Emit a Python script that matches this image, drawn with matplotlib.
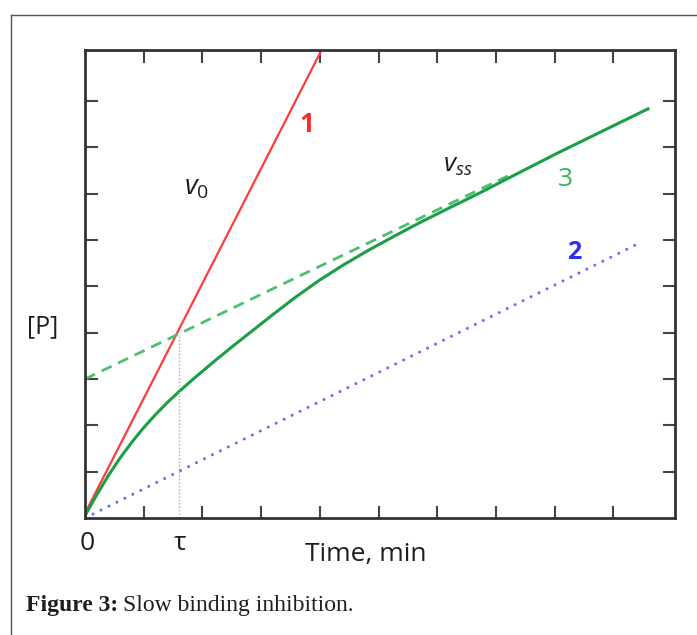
import matplotlib
matplotlib.use("Agg")
import matplotlib.pyplot as plt
from matplotlib.lines import Line2D

# values (arbitrary units)
tau = 1.6

red_t = [0.0, 4.05]
red_p = [0.1, 10.15]

blue_t = [0.0, 9.39]
blue_p = [0.0, 5.9]

asym_t = [0.0, 7.2]
asym_p = [3.0, 7.38]

green_t = [0.0, 0.2, 0.4, 0.6, 0.8, 1.0, 1.2, 1.4, 1.62, 1.9, 2.2, 2.5, 2.84,
           3.2, 3.58, 3.98, 4.4, 4.83, 5.25, 5.68, 6.25, 6.7, 7.16, 8.04, 9.59]
green_p = [0.05, 0.5, 0.92, 1.3, 1.64, 1.95, 2.23, 2.49, 2.75, 3.06, 3.38, 3.69, 4.03,
           4.39, 4.76, 5.12, 5.46, 5.78, 6.07, 6.36, 6.72, 7.0, 7.3, 7.87, 8.83]

plt.rcParams['font.family'] = ['Open Sans', 'DejaVu Sans']
plt.rcParams['mathtext.fontset'] = 'custom'
plt.rcParams['mathtext.rm'] = 'Open Sans'
plt.rcParams['mathtext.it'] = 'Open Sans:italic'

ink = '#1e1e1e'

fig = plt.figure(figsize=(6.97, 6.35), dpi=100)
ax = fig.add_axes([85 / 697, 117 / 635, 590 / 697, 468 / 635])

ax.plot(red_t, red_p, color='#ff3b3b', lw=1.6)
ax.plot(asym_t, asym_p, color='#4cbf72', lw=2.0, linestyle=(0, (4, 2.6)))
ax.plot(green_t, green_p, color='#1a9f46', lw=2.2, solid_joinstyle='round')
ax.plot(blue_t, blue_p, color='#6a6aff', lw=2.2, linestyle=(0, (0.01, 2.9)),
        dash_capstyle='round')
ax.plot([tau, tau], [0, 4.0], color='#aaaaaa', lw=1.0, linestyle=(0, (1, 1.5)))

ax.set_xlim(0, 10.05)
ax.set_ylim(0, 10.1)
ax.set_xticks(range(1, 10))
ax.set_yticks(range(1, 10))
ax.set_xticklabels([])
ax.set_yticklabels([])
ax.tick_params(direction='in', length=9, width=1.5, color='#444444',
               top=True, right=True)
for s in ax.spines.values():
    s.set_color('#333333')
    s.set_linewidth(2.0)

# curve labels
ax.text(3.78, 8.49, '1', color='#ff2a2a', fontsize=19, fontweight='bold',
        ha='center', va='center')
ax.text(8.33, 5.72, '2', color='#2f2fee', fontsize=18, fontweight='bold',
        ha='center', va='center')
ax.text(8.18, 7.3, '3', color='#3bb35a', fontsize=19, ha='center', va='center')
ax.text(1.9, 7.13, r'$v_{\mathit{0}}$', color=ink, fontsize=20, ha='center', va='center')
ax.text(6.35, 7.6, r'$v_{ss}$', color=ink, fontsize=19, ha='center', va='center')

# axis texts
fig.text(43 / 697, 1 - 327 / 635, '[P]', fontsize=18, color=ink,
         ha='center', va='center')
fig.text(87 / 697, 1 - 543 / 635, '0', fontsize=19, color=ink,
         ha='center', va='center')
fig.text(180 / 697, 1 - 543 / 635, '\u03c4', fontsize=19, color=ink,
         ha='center', va='center')
fig.text(366 / 697, 1 - 555 / 635, 'Time, min', fontsize=19, color=ink,
         ha='center', va='center')

# caption
cap1 = fig.text(26 / 697, 1 - 606 / 635, 'Figure 3:', fontsize=17, fontweight='bold',
                family='Liberation Serif', color=ink, ha='left', va='center')
fig.canvas.draw()
bb = cap1.get_window_extent()
fig.text((bb.x1 + 5) / 697, 1 - 606 / 635, 'Slow binding inhibition.', fontsize=17,
         family='Liberation Serif', color=ink, ha='left', va='center')

# outer frame (only left and top edges are visible)
fig.add_artist(Line2D([11 / 697, 11 / 697], [0, 1 - 15 / 635], color='#555555', lw=1.0,
                      transform=fig.transFigure))
fig.add_artist(Line2D([11 / 697, 1], [1 - 15 / 635, 1 - 15 / 635], color='#555555', lw=1.0,
                      transform=fig.transFigure))

fig.savefig('out.png', dpi=100)
